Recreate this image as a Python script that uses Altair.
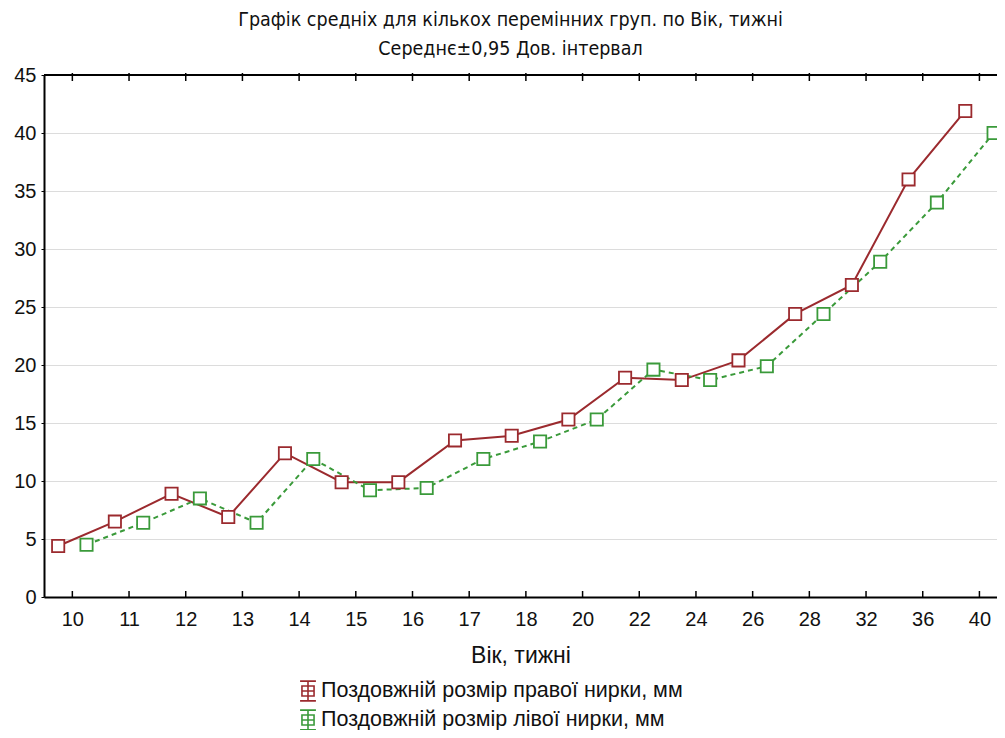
import altair as alt
import pandas as pd

categories = ["10", "11", "12", "13", "14", "15", "16", "17", "18", "20",
              "22", "24", "26", "28", "32", "36", "40"]
right_kidney = [4.4, 6.5, 8.9, 6.9, 12.4, 9.9, 9.9, 13.5, 13.9, 15.3,
                18.9, 18.7, 20.4, 24.4, 26.9, 36.0, 41.9]
left_kidney = [4.5, 6.4, 8.5, 6.4, 11.9, 9.2, 9.4, 11.9, 13.4, 15.3,
               19.6, 18.7, 19.9, 24.4, 28.9, 34.0, 40.0]
series_names = ["Поздовжній розмір правої нирки, мм",
                "Поздовжній розмір лівої нирки, мм"]
colors = ["#9b2a2e", "#3a9a3a"]

rows = []
for i, c in enumerate(categories):
    rows.append({"idx": i, "cat": c, "series": series_names[0], "value": right_kidney[i]})
    rows.append({"idx": i, "cat": c, "series": series_names[1], "value": left_kidney[i]})
df = pd.DataFrame(rows)
cat_df = pd.DataFrame({"idx": list(range(len(categories))), "cat": categories})

W, H = 953, 522
FONT = "Liberation Sans"
NARROW = "'DejaVu Sans Condensed', 'Liberation Sans Narrow', 'Liberation Sans', sans-serif"

label_list = "[" + ",".join("'" + c + "'" for c in categories) + "]"
xscale = alt.Scale(domain=[-0.5, 16.31], nice=False, zero=False)
yscale = alt.Scale(domain=[0, 45], nice=False)

x_enc = alt.X("pos:Q", scale=xscale,
              axis=alt.Axis(values=list(range(len(categories))),
                            labelExpr=label_list + "[datum.value]",
                            title="Вік, тижні", grid=False, tickSize=0,
                            domainColor="black", domainWidth=2,
                            labelFont=FONT, labelFontSize=20, labelColor="#111",
                            labelPadding=12, titleFont=FONT, titleFontSize=23,
                            titleFontWeight="normal", titleColor="#111",
                            titlePadding=15))
y_enc = alt.Y("value:Q", scale=yscale,
              axis=alt.Axis(values=list(range(0, 46, 5)), title=None,
                            grid=True, gridColor="#dcdcdc", gridWidth=1,
                            domainColor="black", domainWidth=2,
                            tickColor="black", tickSize=3,
                            labelFont=FONT, labelFontSize=20, labelColor="#111",
                            labelPadding=5))

base = alt.Chart(df).transform_calculate(
    pos="datum.idx + (datum.series == '" + series_names[0] + "' ? -0.25 : 0.25)"
)

color_scale = alt.Scale(domain=series_names, range=colors)

sym_path = ("M-0.72,-0.9H0.72M0,-0.9V0.9M-0.72,0.9H0.72"
            "M-0.55,-0.45H0.55V0.45H-0.55ZM-0.55,0H0.55")

legend = alt.Legend(title=None, orient="none",
                    legendX=252, legendY=603,
                    direction="vertical",
                    symbolType=sym_path, symbolSize=484,
                    symbolStrokeWidth=1.6,
                    symbolFillColor="white",
                    labelFont=FONT, labelFontSize=21.5,
                    labelColor="#111", labelLimit=600,
                    labelOffset=1, rowPadding=3, clipHeight=26)

line_right = base.transform_filter(
    alt.datum.series == series_names[0]).mark_line(strokeWidth=2).encode(
    x=x_enc, y=y_enc,
    stroke=alt.Stroke("series:N", scale=color_scale, legend=legend),
)
line_left = base.transform_filter(
    alt.datum.series == series_names[1]).mark_line(strokeWidth=2, strokeDash=[5, 4]).encode(
    x="pos:Q", y="value:Q",
    stroke=alt.Stroke("series:N", scale=color_scale, legend=legend),
)

points = base.mark_point(shape="square", size=150, filled=True, fill="white",
                         strokeWidth=1.8, opacity=1).encode(
    x="pos:Q", y="value:Q",
    stroke=alt.Stroke("series:N", scale=color_scale, legend=legend),
)

bottom_ticks = alt.Chart(cat_df).transform_calculate(pos="datum.idx").mark_rule(
    color="black", strokeWidth=1.5).encode(
    x=alt.X("pos:Q", scale=xscale), y=alt.value(H - 6), y2=alt.value(H))
top_ticks = alt.Chart(cat_df).transform_calculate(pos="datum.idx").mark_rule(
    color="black", strokeWidth=1.5).encode(
    x=alt.X("pos:Q", scale=xscale), y=alt.value(-2), y2=alt.value(6))
top_line = alt.Chart(cat_df).mark_rule(color="black", strokeWidth=2).encode(
    x=alt.value(0), x2=alt.value(W), y=alt.value(0))

chart = alt.layer(line_right, line_left, points, bottom_ticks, top_ticks, top_line).properties(
    width=W, height=H,
    autosize=alt.AutoSizeParams(type="none"),
    padding={"left": 36, "top": 67, "right": 0, "bottom": 133},
    title=alt.Title(["Графік средніх для кількох перемінних груп. по Вік, тижні",
                     "Середнє±0,95 Дов. інтервал"],
                    font=NARROW, fontSize=19.5, fontWeight="normal",
                    color="#111", lineHeight=29, anchor="middle", dx=-10, offset=6),
).configure_view(stroke=None).configure(background="white")

chart.save("out.html", embed_options={"renderer": "svg", "actions": False})
